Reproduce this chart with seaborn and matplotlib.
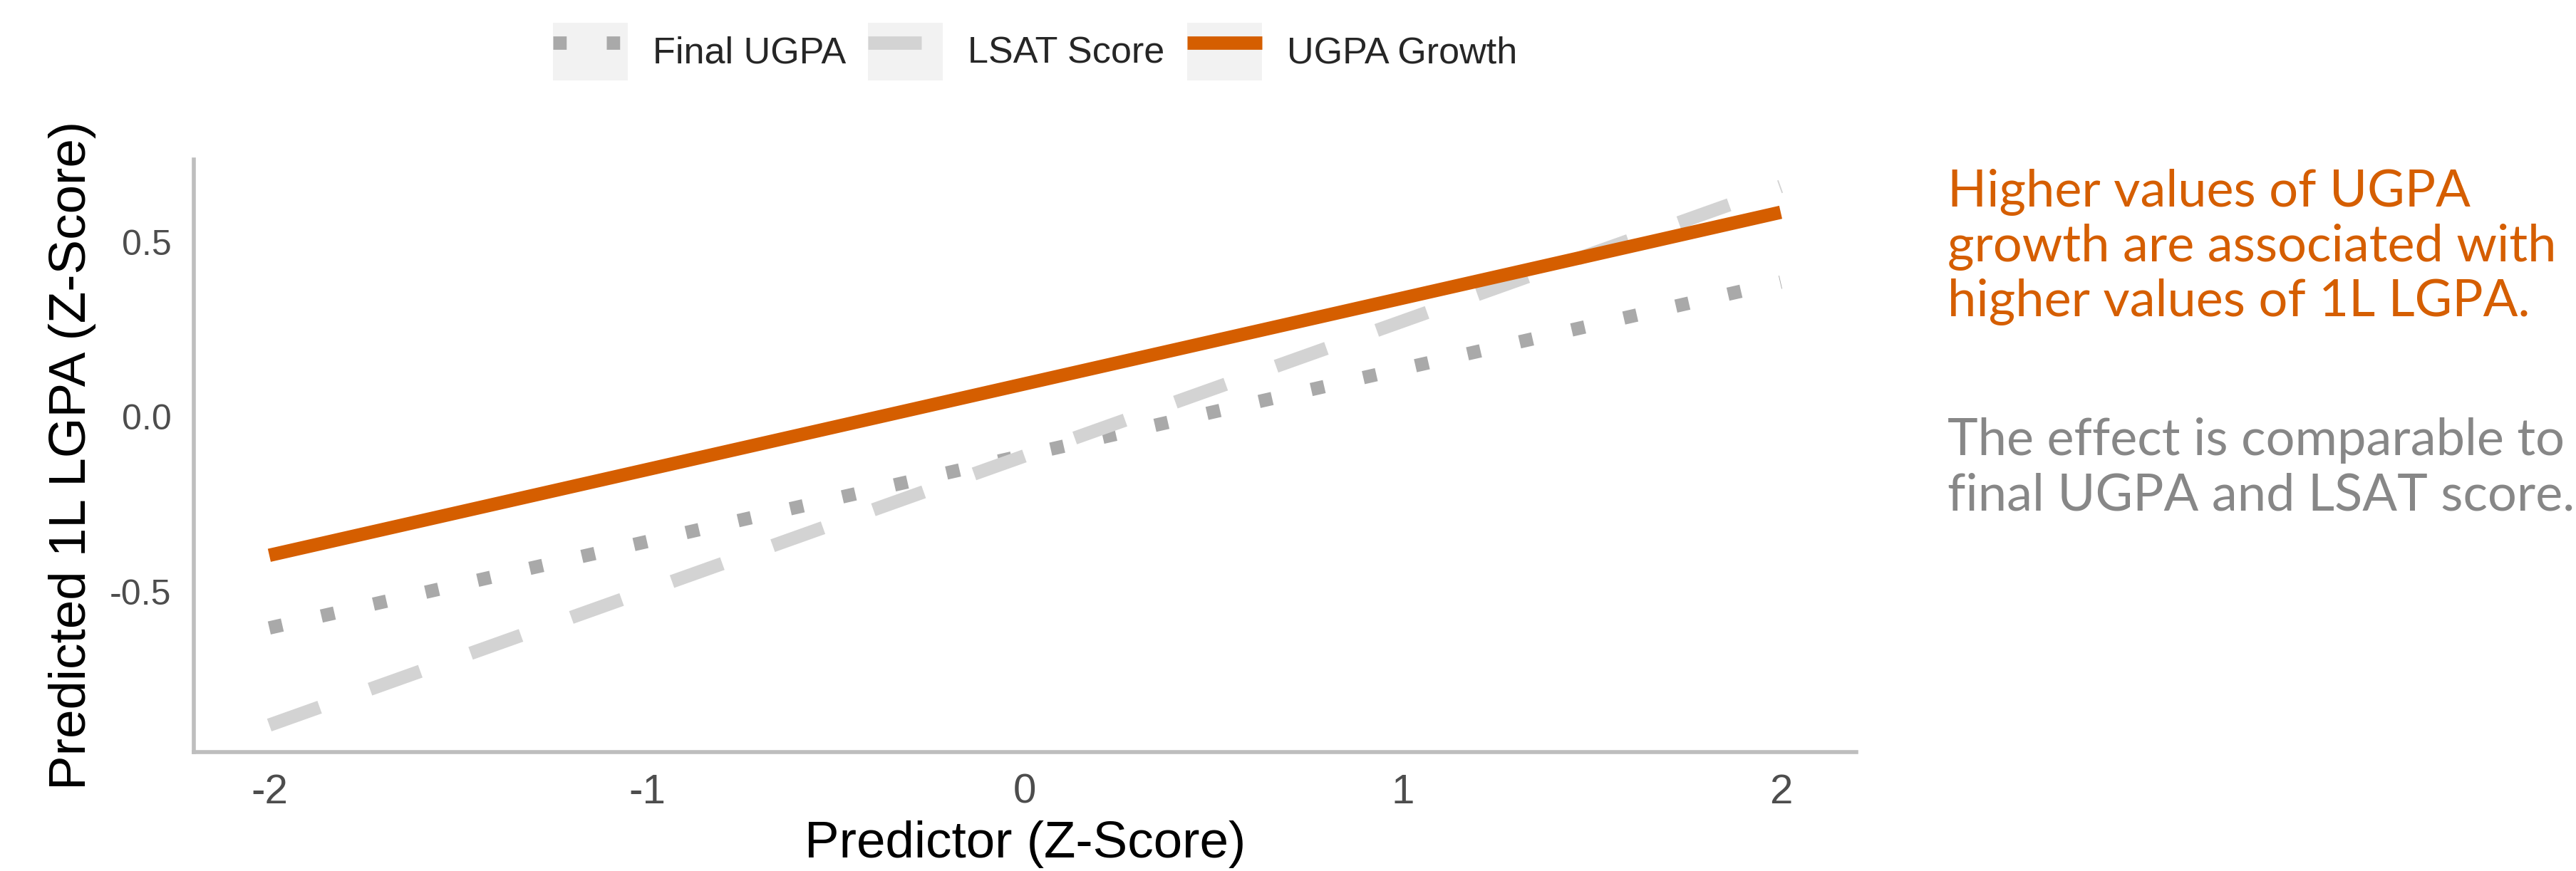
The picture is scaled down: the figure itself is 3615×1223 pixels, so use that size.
import matplotlib
matplotlib.use("Agg")
import matplotlib.pyplot as plt
import seaborn as sns
import pandas as pd
from matplotlib.legend_handler import HandlerLine2D
from matplotlib.lines import Line2D
from matplotlib.patches import Rectangle
from matplotlib.ticker import FixedLocator, StrMethodFormatter

# values: predicted 1L LGPA (z) at predictor z = -2 and z = 2
predictor_z = [-2, 2]
final_ugpa = [-0.604, 0.386]
lsat_score = [-0.882, 0.66]
ugpa_growth = [-0.396, 0.586]

series_names = ["Final UGPA", "LSAT Score", "UGPA Growth"]
series_colors = {"Final UGPA": "#A9A9A9", "LSAT Score": "#D3D3D3", "UGPA Growth": "#D55E00"}
series_dashes = {"Final UGPA": (1, 3), "LSAT Score": (4, 4), "UGPA Growth": ""}

x_ticks = [-2, -1, 0, 1, 2]
y_ticks = [-0.5, 0.0, 0.5]

note_main = ["Higher values of UGPA", "growth are associated with", "higher values of 1L LGPA."]
note_side = ["The effect is comparable to", "final UGPA and LSAT score."]

df = pd.DataFrame({
    "z": predictor_z * len(series_names),
    "pred": final_ugpa + lsat_score + ugpa_growth,
    "predictor": [n for n in series_names for _ in predictor_z],
})


class KeyBoxHandler(HandlerLine2D):
    """legend key with a light grey square behind the line (ggplot style)"""
    def create_artists(self, legend, orig_handle, xdescent, ydescent, width, height, fontsize, trans):
        arts = super().create_artists(legend, orig_handle, xdescent, ydescent, width, height, fontsize, trans)
        bg = Rectangle((-xdescent, -ydescent), width, height, facecolor="#F2F2F2",
                       edgecolor="none", transform=trans)
        return [bg] + list(arts)


sns.set_theme(style="white")
plt.rcParams["font.family"] = ["Liberation Sans", "DejaVu Sans"]
plt.rcParams["axes.unicode_minus"] = False
plt.rcParams["lines.solid_capstyle"] = "butt"
plt.rcParams["lines.dash_capstyle"] = "butt"

LW = 4.5

fig = plt.figure(figsize=(3615 / 300, 1223 / 300), dpi=300)
ax = fig.add_axes([0.0752, 0.1366, 0.6454, 0.6803])

sns.lineplot(data=df, x="z", y="pred", hue="predictor", style="predictor",
             hue_order=series_names, style_order=series_names,
             palette=series_colors, dashes=series_dashes, linewidth=LW,
             errorbar=None, legend=False, ax=ax)

for side in ["top", "right"]:
    ax.spines[side].set_visible(False)
for side in ["left", "bottom"]:
    ax.spines[side].set_color("#BEBEBE")
    ax.spines[side].set_linewidth(1.35)

ax.xaxis.set_major_locator(FixedLocator(x_ticks))
ax.yaxis.set_major_locator(FixedLocator(y_ticks))
ax.xaxis.set_major_formatter(StrMethodFormatter("{x:.0f}"))
ax.yaxis.set_major_formatter(StrMethodFormatter("{x:.1f}"))
ax.tick_params(axis="x", length=0, pad=7.2, labelsize=14, labelcolor="#4D4D4D")
ax.tick_params(axis="y", length=0, pad=7.5, labelsize=12, labelcolor="#4D4D4D")
ax.grid(False)

ax.set_xlabel("Predictor (Z-Score)", fontsize=17.5, color="black", labelpad=3)
ax.set_ylabel("Predicted 1L LGPA (Z-Score)", fontsize=17.5, color="black", labelpad=4.5)

handles = [Line2D([], [], color=series_colors[n], linewidth=LW,
                  linestyle=(0, series_dashes[n]) if series_dashes[n] else "-",
                  solid_capstyle="butt", dash_capstyle="butt")
           for n in series_names]
fig.legend(handles, series_names, loc="center", bbox_to_anchor=(0.4018, 0.941),
           ncol=3, frameon=False, fontsize=12.5, handlelength=2.016, handleheight=2.016,
           handletextpad=0.67, columnspacing=0.6, borderpad=0, borderaxespad=0,
           handler_map={Line2D: KeyBoxHandler(marker_pad=0.2)})

# side notes
note_font = dict(family=["Lato", "DejaVu Sans"], fontweight="normal", fontsize=17.3)
step = 77 / 1223
for i, line in enumerate(note_main):
    fig.text(0.756, 0.7629 - i * step, line, color="#D55E00", va="baseline", **note_font)
for i, line in enumerate(note_side):
    fig.text(0.756, 0.4775 - i * step, line, color="#878787", va="baseline", **note_font)

fig.savefig("out.png", dpi=300)
